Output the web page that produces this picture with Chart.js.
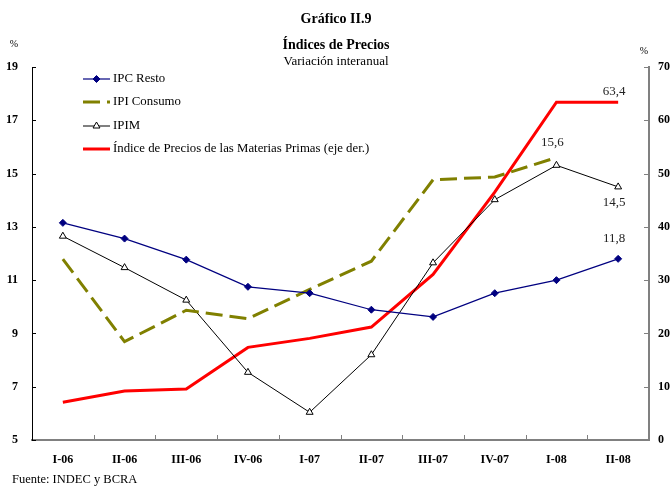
<!DOCTYPE html>
<html lang="es">
<head>
<meta charset="utf-8">
<title>Gráfico II.9 - Índices de Precios</title>
<script src="https://cdn.jsdelivr.net/npm/chart.js@4.4.1/dist/chart.umd.min.js"></script>
<style>
    html, body { margin: 0; padding: 0; background: #fff; }
    #grafico { display: block; }
</style>
</head>
<body>
<canvas id="grafico" width="672" height="487"></canvas>
<script>
// Datos (variación interanual, %)
const periodos = ['I-06', 'II-06', 'III-06', 'IV-06', 'I-07', 'II-07', 'III-07', 'IV-07', 'I-08', 'II-08'];
const ipcResto = [13.15, 12.56, 11.77, 10.75, 10.51, 9.89, 9.62, 10.51, 11.0, 11.8];
const ipiConsumo = [11.79, 8.69, 9.87, 9.55, 10.65, 11.71, 14.77, 14.87, 15.6, null];
const ipim = [12.65, 11.47, 10.25, 7.54, 6.04, 8.2, 11.65, 14.02, 15.31, 14.5];
const materiasPrimas = [7.07, 9.19, 9.56, 17.38, 19.07, 21.19, 31.07, 46.5, 63.4, 63.4];

// Etiquetas de valores sobre la última observación
const etiquetas = [
    { serie: 3, indice: 9, dy: -11 },
    { serie: 1, indice: 8, dy: -15 },
    { serie: 2, indice: 9, dy: 16 },
    { serie: 0, indice: 9, dy: -20 }
];

const fuente = "'Liberation Serif', 'Times New Roman', serif";
Chart.defaults.font.family = fuente;
Chart.defaults.color = '#000';

// Marcas de los ejes hacia adentro
const marcasPlugin = {
    id: 'marcas',
    afterDraw(chart) {
        const { ctx, chartArea, scales } = chart;
        ctx.save();
        ctx.lineWidth = 1;

        ctx.strokeStyle = '#000';
        scales.y.ticks.forEach((t, i) => {
            const py = Math.round(scales.y.getPixelForTick(i)) + 0.5;
            ctx.beginPath();
            ctx.moveTo(chartArea.left, py);
            ctx.lineTo(chartArea.left + 4, py);
            ctx.stroke();
        });

        ctx.strokeStyle = '#808080';
        scales.y1.ticks.forEach((t, i) => {
            const py = Math.round(scales.y1.getPixelForTick(i)) + 0.5;
            ctx.beginPath();
            ctx.moveTo(chartArea.right, py);
            ctx.lineTo(chartArea.right - 5, py);
            ctx.stroke();
        });

        for (let i = 1; i < periodos.length; i++) {
            const px = Math.round((scales.x.getPixelForTick(i - 1) + scales.x.getPixelForTick(i)) / 2) + 0.5;
            ctx.beginPath();
            ctx.moveTo(px, chartArea.bottom);
            ctx.lineTo(px, chartArea.bottom - 5);
            ctx.stroke();
        }
        ctx.restore();
    }
};

// Títulos, leyenda, etiquetas y fuente
const textosPlugin = {
    id: 'textos',
    afterDraw(chart) {
        const ctx = chart.ctx;
        ctx.save();
        ctx.fillStyle = '#000';
        ctx.textAlign = 'center';
        ctx.textBaseline = 'middle';

        ctx.font = 'bold 14px ' + fuente;
        ctx.fillText('Gráfico II.9', 336, 19);
        ctx.fillText('Índices de Precios', 336, 45);
        ctx.font = '13px ' + fuente;
        ctx.fillText('Variación interanual', 336, 62);

        ctx.font = '10px ' + fuente;
        ctx.fillText('%', 14, 44);
        ctx.fillText('%', 644, 51);

        ctx.textAlign = 'left';
        ctx.font = '12.5px ' + fuente;
        ctx.fillText('Fuente: INDEC y BCRA', 12, 480);

        // leyenda
        const filas = [79, 102, 126, 149];
        chart.data.datasets.forEach((ds, i) => {
            const y = filas[i];
            ctx.save();
            ctx.strokeStyle = ds.borderColor;
            ctx.lineWidth = ds.borderWidth;
            ctx.setLineDash(ds.borderDash || []);
            ctx.beginPath();
            ctx.moveTo(83, y);
            ctx.lineTo(110, y);
            ctx.stroke();
            ctx.restore();
            if (ds.pointRadius > 0) {
                ctx.save();
                ctx.fillStyle = ds.pointBackgroundColor;
                ctx.strokeStyle = ds.pointBorderColor;
                ctx.lineWidth = 1;
                Chart.helpers.drawPoint(ctx, {
                    pointStyle: ds.pointStyle,
                    radius: ds.pointRadius,
                    borderWidth: 1,
                    rotation: 0
                }, 96.5, y);
                ctx.restore();
            }
            ctx.font = '12.8px ' + fuente;
            ctx.fillStyle = '#000';
            ctx.fillText(ds.label, 113, y);
        });

        // valores
        ctx.textAlign = 'center';
        ctx.fillStyle = '#222';
        ctx.font = '13px ' + fuente;
        etiquetas.forEach(e => {
            const p = chart.getDatasetMeta(e.serie).data[e.indice];
            const v = chart.data.datasets[e.serie].data[e.indice];
            ctx.fillText(v.toFixed(1).replace('.', ','), p.x - 4, p.y + e.dy);
        });
        ctx.restore();
    }
};

new Chart(document.getElementById('grafico'), {
    type: 'line',
    data: {
        labels: periodos,
        datasets: [
            {
                label: 'IPC Resto',
                data: ipcResto,
                yAxisID: 'y',
                borderColor: '#000080',
                borderWidth: 1.2,
                pointStyle: 'rectRot',
                pointRadius: 3.5,
                pointBackgroundColor: '#000080',
                pointBorderColor: '#000080',
                pointBorderWidth: 1
            },
            {
                label: 'IPI Consumo',
                data: ipiConsumo,
                yAxisID: 'y',
                borderColor: '#808000',
                borderWidth: 3,
                borderDash: [17, 7],
                pointRadius: 0
            },
            {
                label: 'IPIM',
                data: ipim,
                yAxisID: 'y',
                borderColor: '#000',
                borderWidth: 1,
                pointStyle: 'triangle',
                pointRadius: 4,
                pointBackgroundColor: '#fff',
                pointBorderColor: '#000',
                pointBorderWidth: 1
            },
            {
                label: 'Índice de Precios de las Materias Primas (eje der.)',
                data: materiasPrimas,
                yAxisID: 'y1',
                borderColor: '#ff0000',
                borderWidth: 3,
                pointRadius: 0
            }
        ]
    },
    options: {
        responsive: false,
        animation: false,
        layout: { padding: { top: 67 } },
        elements: { line: { tension: 0, fill: false } },
        plugins: {
            legend: { display: false },
            tooltip: { enabled: false }
        },
        scales: {
            x: {
                offset: true,
                grid: { drawOnChartArea: false, drawTicks: false },
                border: { color: '#808080', width: 2 },
                ticks: { padding: 13, font: { size: 12, weight: 'bold' }, maxRotation: 0 },
                afterFit(s) { s.height = 47; }
            },
            y: {
                position: 'left',
                min: 5,
                max: 19,
                ticks: { stepSize: 2, padding: 14, font: { size: 12, weight: 'bold' } },
                grid: { drawOnChartArea: false, drawTicks: false },
                border: { color: '#000', width: 1 },
                afterFit(s) { s.width = 32; }
            },
            y1: {
                position: 'right',
                min: 0,
                max: 70,
                ticks: { stepSize: 10, padding: 9, font: { size: 12, weight: 'bold' } },
                grid: { drawOnChartArea: false, drawTicks: false },
                border: { color: '#808080', width: 2 },
                afterFit(s) { s.width = 23; }
            }
        }
    },
    plugins: [marcasPlugin, textosPlugin]
});
</script>
</body>
</html>
